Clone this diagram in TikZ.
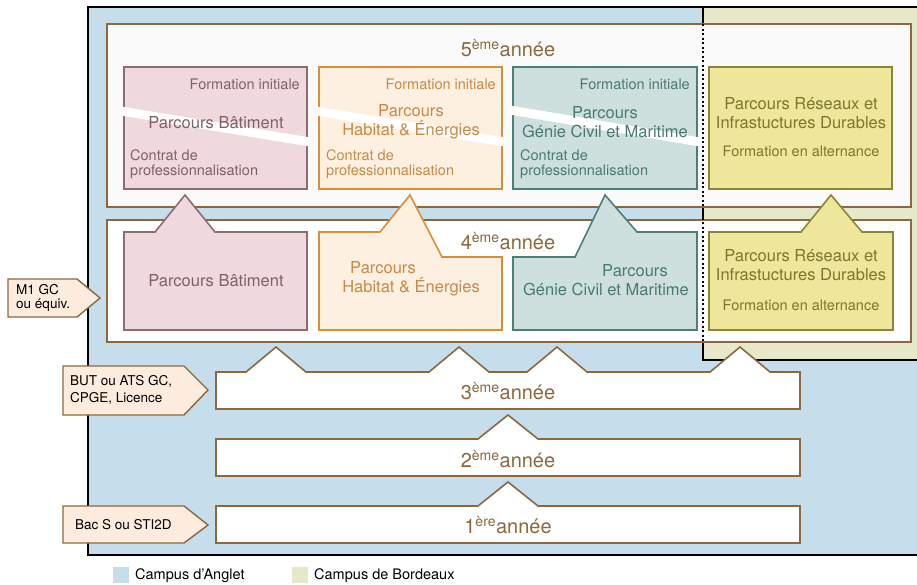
\documentclass[tikz,border=0pt]{standalone}
\usepackage{fontspec}
\setmainfont{TeX Gyre Heros}

\definecolor{anglet}{HTML}{C6DDEC}
\definecolor{bordeaux}{HTML}{E7E8CA}
\definecolor{brownline}{HTML}{8C683C}
\definecolor{labelfill}{HTML}{FDECDD}
\definecolor{batfill}{HTML}{F0D9DC}
\definecolor{batline}{HTML}{8F6B73}
\definecolor{battext}{HTML}{80606A}
\definecolor{habfill}{HTML}{FEF0E0}
\definecolor{habline}{HTML}{D98F3A}
\definecolor{habtext}{HTML}{C98A45}
\definecolor{gcmfill}{HTML}{CDE0DE}
\definecolor{gcmline}{HTML}{4C8077}
\definecolor{gcmtext}{HTML}{497A71}
\definecolor{ridfill}{HTML}{EEE69A}
\definecolor{ridline}{HTML}{8C8535}
\definecolor{ridtext}{HTML}{7C7630}

\begin{document}
\begin{tikzpicture}[x=1pt, y=-1pt,
    campusline/.style={draw=black, line width=1.4pt},
    yearbox/.style={draw=brownline, line width=1.6pt, fill=white},
    yeartext/.style={text=brownline, inner sep=0pt, font=\fontsize{20}{22}\selectfont},
    entrybox/.style={draw=brownline, line width=1.4pt, fill=labelfill},
    entrytext/.style={inner sep=0pt, align=left, font=\fontsize{13.5}{17}\selectfont},
    subbox/.style={line width=1.6pt},
    maintext/.style={inner sep=0pt, align=center, font=\fontsize{16.5}{19.5}\selectfont},
    subtext/.style={inner sep=0pt, font=\fontsize{14.5}{15}\selectfont},
    legtext/.style={inner sep=0pt, anchor=west, font=\fontsize{14.5}{16}\selectfont},
    band/.style={white, line width=9pt}]

    \useasboundingbox (0,0) rectangle (917,584);

    % Campus areas
    \fill[anglet] (88,7) rectangle (917,555);
    \fill[bordeaux] (703,7) rectangle (917,360);
    \draw[campusline] (917,7) -- (88,7) -- (88,555) -- (917,555);
    \draw[campusline] (703,7) -- (703,360) -- (917,360);

    % 5eme and 4eme annee frames
    \draw[yearbox, fill=black!2] (107,24) rectangle (911,207);
    \draw[yearbox] (107,220) rectangle (911,342);

    % 4eme annee parcours (pointing up)
    \draw[subbox, draw=batline, fill=batfill] (124,330) -- (124,232) -- (155,232) -- (185,195)
      -- (215,232) -- (307,232) -- (307,330) -- cycle;
    \draw[subbox, draw=habline, fill=habfill] (319,330) -- (319,232) -- (380,232) -- (410,195)
      -- (442,257) -- (502,257) -- (502,330) -- cycle;
    \draw[subbox, draw=gcmline, fill=gcmfill] (513,330) -- (513,257) -- (575,257) -- (605,195)
      -- (637,232) -- (697,232) -- (697,330) -- cycle;
    \draw[subbox, draw=ridline, fill=ridfill] (709,330) -- (709,232) -- (801,232) -- (831,195)
      -- (862,232) -- (893,232) -- (893,330) -- cycle;

    \node[maintext, text=battext] (bat4) at (216,281) {Parcours Bâtiment};
    \node[maintext, text=habtext] (hab4) at (411,279) {Parcours\hspace*{56pt}\\Habitat \& Énergies};
    \node[maintext, text=gcmtext] (gcm4) at (606,280) {\hspace*{58pt}Parcours\\Génie Civil et Maritime};
    \node[maintext, text=ridtext] (rid4) at (801,265) {Parcours Réseaux et\\Infrastuctures Durables};
    \node[subtext, text=ridtext] (rid4alt) at (801,305) {Formation en alternance};
    \node[yeartext] (an4) at (508,241) {4\textsuperscript{ème}année};

    % 5eme annee parcours
    \draw[subbox, draw=batline, fill=batfill] (124,67) rectangle (307,189);
    \draw[subbox, draw=habline, fill=habfill] (319,67) rectangle (502,189);
    \draw[subbox, draw=gcmline, fill=gcmfill] (513,67) rectangle (697,189);
    \draw[subbox, draw=ridline, fill=ridfill] (709,67) rectangle (892,189);

    % split initiale / contrat pro
    \draw[band] (121,111) -- (310,142);
    \draw[band] (316,111) -- (505,142);
    \draw[band] (510,110) -- (700,142);

    \node[subtext, text=battext, anchor=east] (bat5fi) at (300,84) {Formation initiale};
    \node[maintext, text=battext] (bat5) at (216,123) {Parcours Bâtiment};
    \node[subtext, text=battext, anchor=west, align=left] (bat5cp) at (130,164) {Contrat de\\professionnalisation};

    \node[subtext, text=habtext, anchor=east] (hab5fi) at (496,84) {Formation initiale};
    \node[maintext, text=habtext] (hab5) at (411,122) {Parcours\\Habitat \& Énergies};
    \node[subtext, text=habtext, anchor=west, align=left] (hab5cp) at (326,164) {Contrat de\\professionnalisation};

    \node[subtext, text=gcmtext, anchor=east] (gcm5fi) at (690,84) {Formation initiale};
    \node[maintext, text=gcmtext] (gcm5) at (605,122) {Parcours\\Génie Civil et Maritime};
    \node[subtext, text=gcmtext, anchor=west, align=left] (gcm5cp) at (520,164) {Contrat de\\professionnalisation};

    \node[maintext, text=ridtext] (rid5) at (801,113) {Parcours Réseaux et\\Infrastuctures Durables};
    \node[subtext, text=ridtext] (rid5alt) at (801,151) {Formation en alternance};

    \node[yeartext] (an5) at (508,48) {5\textsuperscript{ème}année};

    % campus boundary inside the frames
    \draw[black, line width=2pt, dash pattern=on 2pt off 2.5pt] (703,24) -- (703,342);

    % 1ere to 3eme annee
    \draw[yearbox] (216,409) -- (216,372) -- (246,372) -- (276,347) -- (306,372) -- (429,372)
      -- (459,347) -- (489,372) -- (527,372) -- (557,347) -- (587,372) -- (710,372)
      -- (740,347) -- (770,372) -- (800,372) -- (800,409) -- cycle;
    \draw[yearbox] (216,476) -- (216,439) -- (478,439) -- (508,415) -- (538,439)
      -- (800,439) -- (800,476) -- cycle;
    \draw[yearbox] (216,543) -- (216,506) -- (478,506) -- (508,482) -- (538,506)
      -- (800,506) -- (800,543) -- cycle;

    \node[yeartext] (an3) at (508,391) {3\textsuperscript{ème}année};
    \node[yeartext] (an2) at (508,459) {2\textsuperscript{ème}année};
    \node[yeartext] (an1) at (508,525) {1\textsuperscript{ère}année};

    % Entry levels
    \draw[entrybox] (8,279) -- (77,279) -- (100,298) -- (77,317) -- (8,317) -- cycle;
    \draw[entrybox] (63,366) -- (184,366) -- (208,390) -- (184,415) -- (63,415) -- cycle;
    \draw[entrybox] (63,506) -- (184,506) -- (208,525) -- (184,543) -- (63,543) -- cycle;

    \node[entrytext, anchor=west, font=\fontsize{13.5}{14}\selectfont] (m1) at (16,298) {M1 GC\\ou équiv.};
    \node[entrytext, anchor=west] (but) at (70,390) {BUT ou ATS GC,\\CPGE, Licence};
    \node[entrytext, anchor=west] (bac) at (75,525) {Bac S ou STI2D};

    % Legend
    \fill[anglet] (113,567) rectangle (129,583);
    \node[legtext] (leganglet) at (135,576) {Campus d'Anglet};
    \fill[bordeaux] (292,567) rectangle (308,583);
    \node[legtext] (legbordeaux) at (314,576) {Campus de Bordeaux};
\end{tikzpicture}
\end{document}
